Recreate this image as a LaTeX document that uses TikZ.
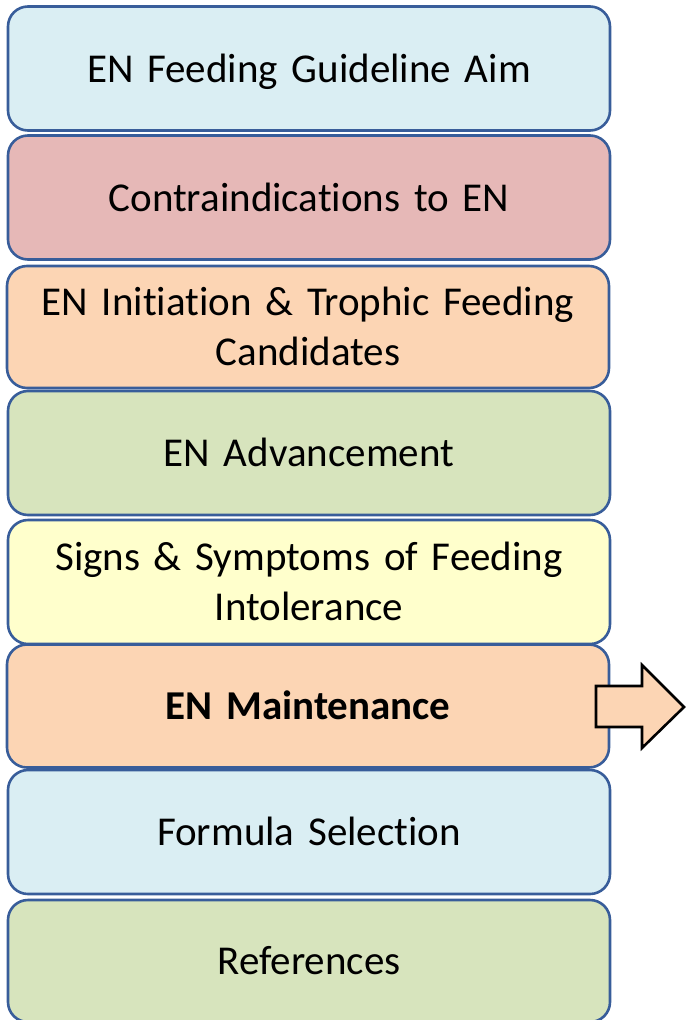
\documentclass[tikz,border=0pt]{standalone}
\usepackage{fontspec}
\setmainfont[Ligatures=NoCommon]{Carlito}
\definecolor{bordc}{HTML}{385D9A}
\definecolor{cblue}{HTML}{DAEEF3}
\definecolor{cpink}{HTML}{E6B8B7}
\definecolor{cpeach}{HTML}{FCD5B4}
\definecolor{cgreen}{HTML}{D7E4BD}
\definecolor{cyellow}{HTML}{FFFFCC}
\begin{document}
\begin{tikzpicture}[x=1pt,y=1pt,
  box/.style={draw=bordc, line width=2.6pt, rounded corners=20pt,
    minimum width=602pt, minimum height=124pt, align=center,
    font=\fontsize{41}{50}\selectfont, inner sep=0pt, text width=590pt,
    text height=27pt, text depth=0pt},
  twoline/.style={text depth=50pt}]
\useasboundingbox (0,0) rectangle (687,-1020);
\node[box, fill=cblue] (b1) at (309,-68.5) {EN Feeding Guideline Aim};
\node[box, fill=cpink] (b2) at (309,-197.5) {Contraindications to EN};
\node[box, twoline, fill=cpeach, minimum height=122pt] (b3) at (308,-327) {EN Initiation \& Trophic Feeding\\Candidates};
\node[box, fill=cgreen] (b4) at (309,-453) {EN Advancement};
\node[box, twoline, fill=cyellow] (b5) at (309,-582) {Signs \& Symptoms of Feeding\\Intolerance};
\node[box, fill=cpeach, minimum height=123pt] (b6) at (308,-706) {\bfseries EN Maintenance};
\node[box, fill=cblue] (b7) at (309,-832) {Formula Selection};
\node[box, fill=cgreen, minimum height=122pt] (b8) at (309,-961) {References};
\draw[fill=cpeach, line width=2.6pt, line join=miter]
  (596,-686) -- (642,-686) -- (642,-665) -- (684,-707) -- (642,-748) -- (642,-727) -- (596,-727) -- cycle;
\end{tikzpicture}
\end{document}
